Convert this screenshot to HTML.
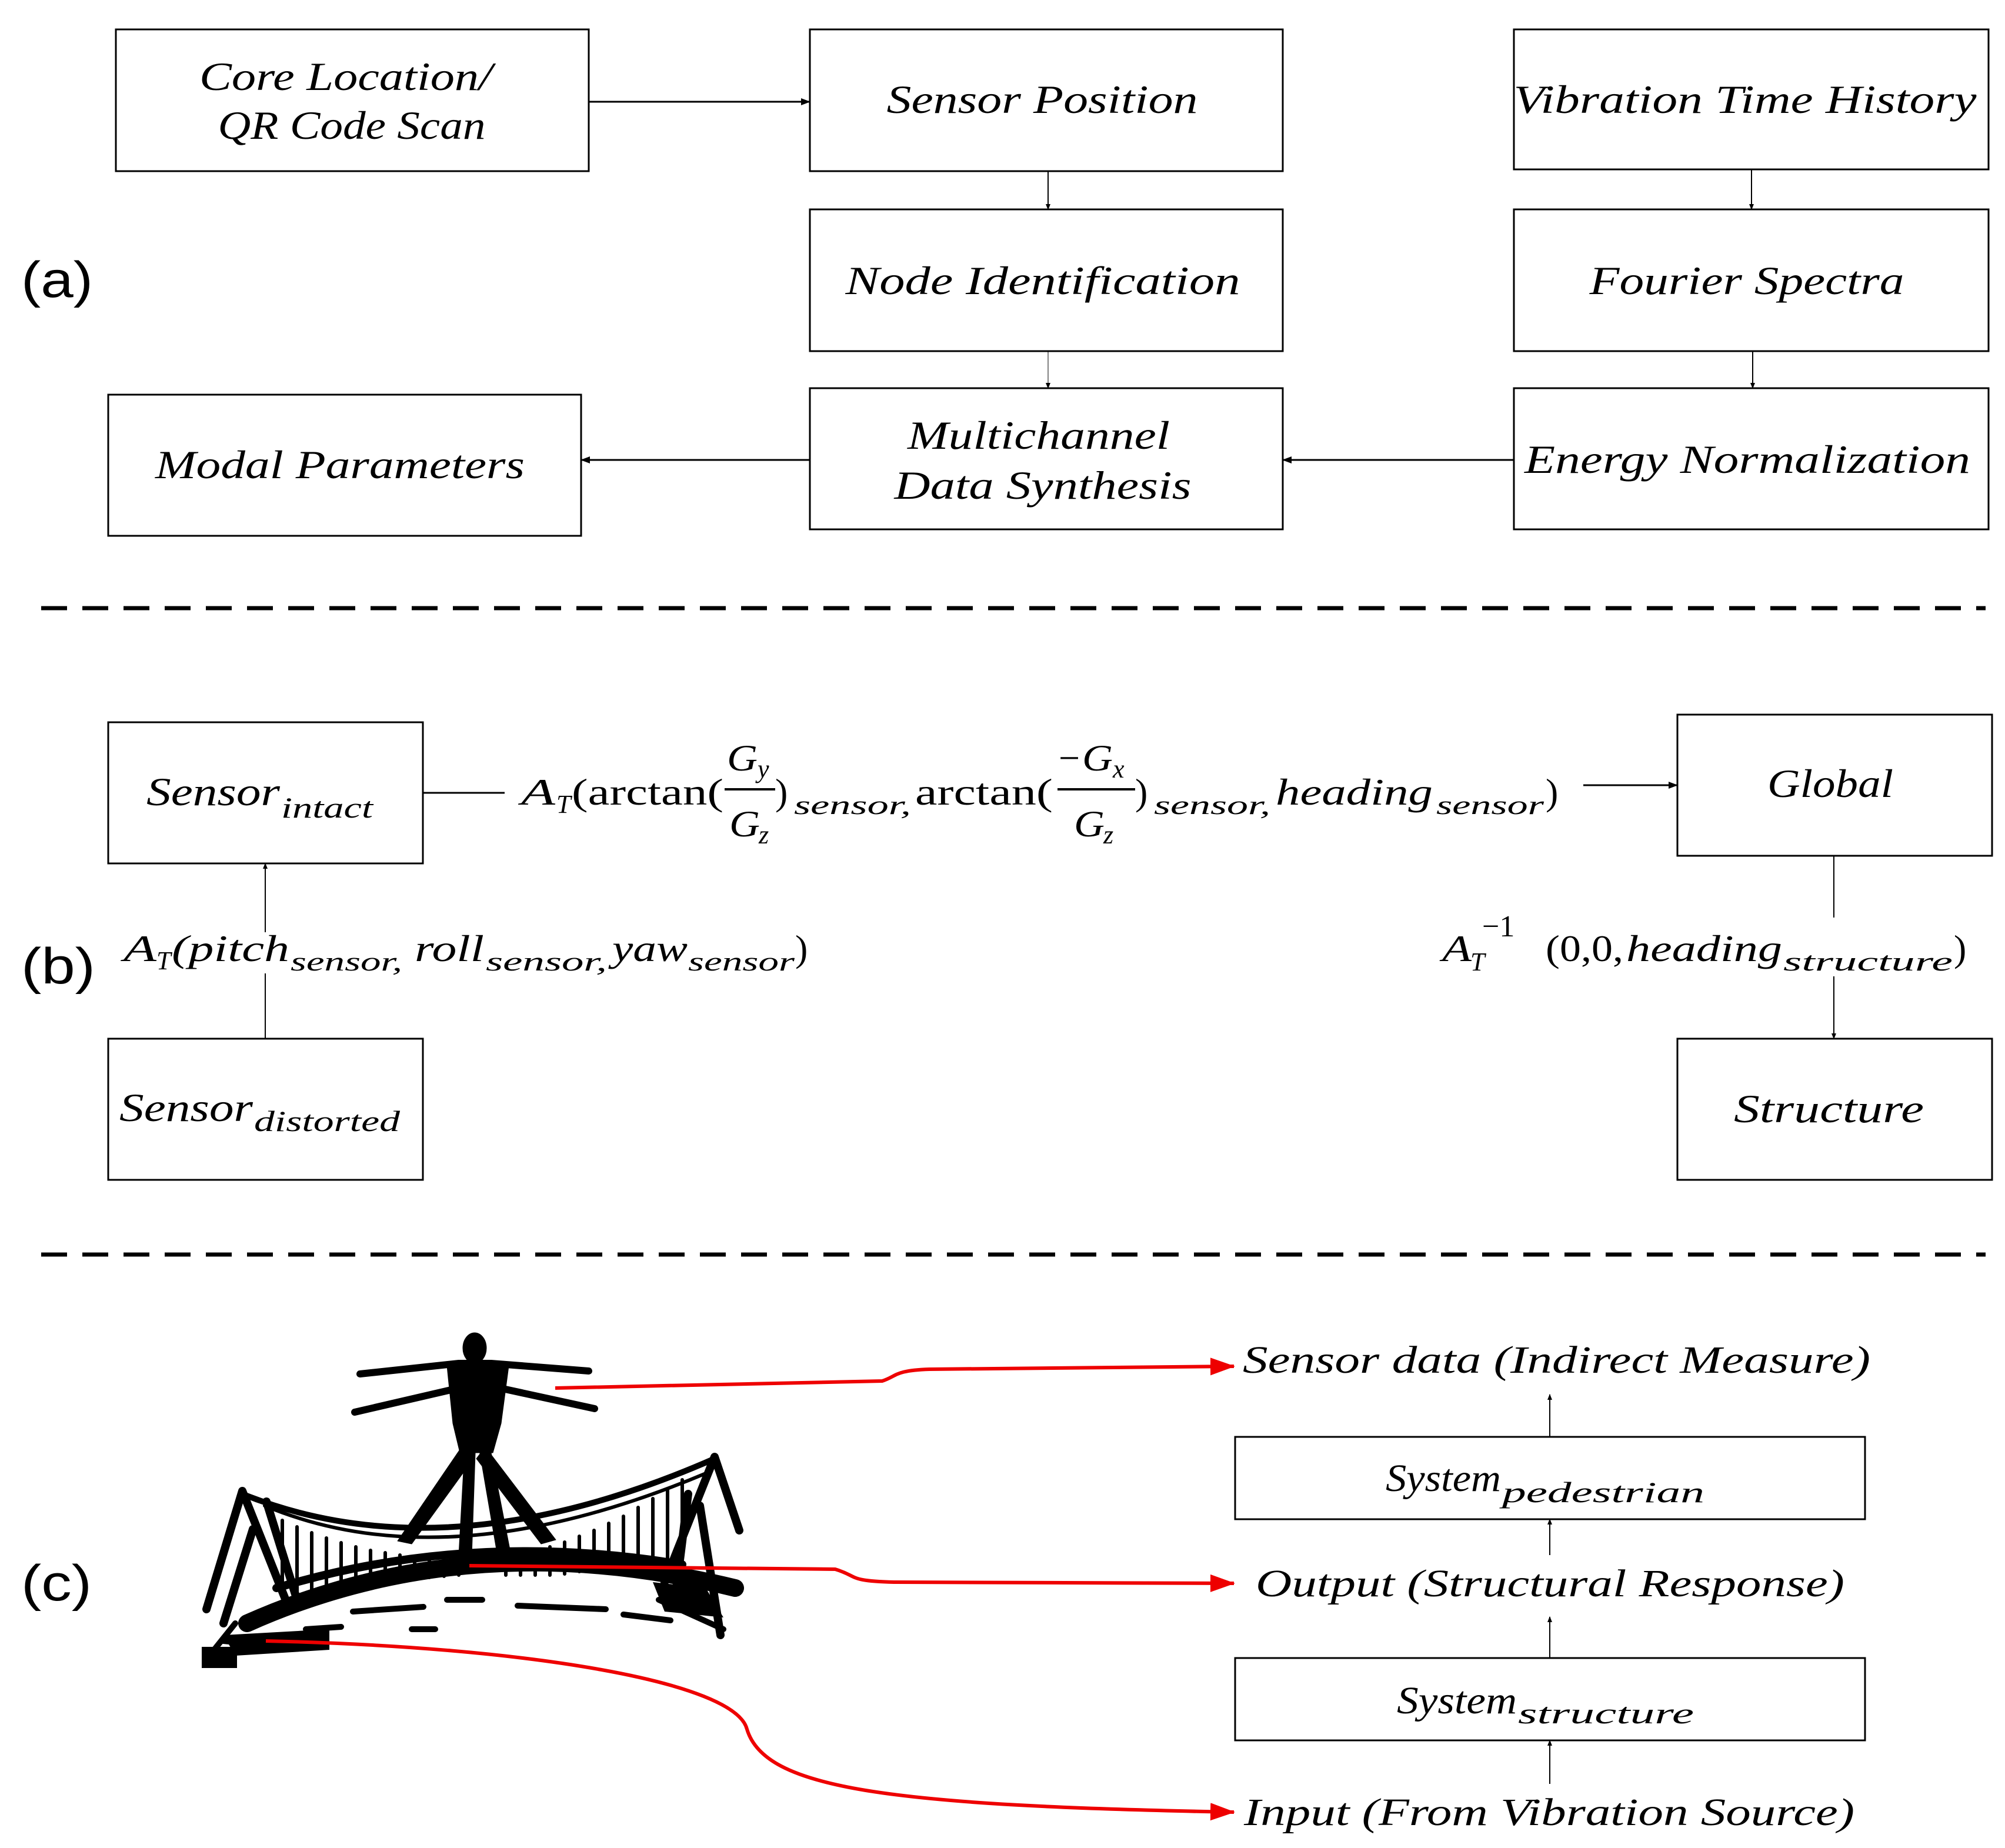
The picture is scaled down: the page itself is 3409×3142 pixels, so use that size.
<!DOCTYPE html>
<html><head><meta charset="utf-8"><style>
html,body{margin:0;padding:0;background:#fff;}
svg{display:block;}
text{font-family:"Liberation Serif",serif;font-style:italic;fill:#000;}
.up{font-style:normal;}
.lbl{font-family:"Liberation Sans",sans-serif;font-style:normal;font-size:86px;}
</style></head><body>
<svg width="3409" height="3142" viewBox="0 0 3409 3142" xmlns="http://www.w3.org/2000/svg">
<defs>
<marker id="ah" markerWidth="10" markerHeight="8" refX="9" refY="4" orient="auto" markerUnits="userSpaceOnUse" viewBox="0 0 10 8"><path d="M0,0 L10,4 L0,8 z" fill="#000"/></marker>
<marker id="ahb" markerWidth="16" markerHeight="12" refX="15" refY="6" orient="auto" markerUnits="userSpaceOnUse" viewBox="0 0 16 12"><path d="M0,0 L16,6 L0,12 z" fill="#000"/></marker>
<marker id="rh" markerWidth="42" markerHeight="30" refX="40" refY="15" orient="auto" markerUnits="userSpaceOnUse" viewBox="0 0 42 30"><path d="M0,0 L42,15 L0,30 z" fill="#e00"/></marker>
</defs>
<g fill="none" stroke="#000" stroke-width="3">
<rect x="197" y="50" width="804" height="241"/>
<rect x="1377" y="50" width="804" height="241"/>
<rect x="2574" y="50" width="807" height="238"/>
<rect x="1377" y="356" width="804" height="241"/>
<rect x="2574" y="356" width="807" height="241"/>
<rect x="184" y="671" width="804" height="240"/>
<rect x="1377" y="660" width="804" height="240"/>
<rect x="2574" y="660" width="807" height="240"/>
<rect x="184" y="1228" width="535" height="240"/>
<rect x="2852" y="1215" width="535" height="240"/>
<rect x="184" y="1766" width="535" height="240"/>
<rect x="2852" y="1766" width="535" height="240"/>
<rect x="2100" y="2443" width="1071" height="140"/>
<rect x="2100" y="2819" width="1071" height="140"/>
</g>
<g stroke="#000" stroke-width="3" fill="none">
<line x1="1001" y1="173" x2="1377" y2="173" marker-end="url(#ahb)"/>
<line x1="1782" y1="291" x2="1782" y2="356" stroke-width="2" marker-end="url(#ah)"/>
<line x1="1782" y1="597" x2="1782" y2="660" stroke-width="1" marker-end="url(#ah)"/>
<line x1="2978" y1="288" x2="2978" y2="356" stroke-width="2" marker-end="url(#ah)"/>
<line x1="2980" y1="597" x2="2980" y2="660" stroke-width="2" marker-end="url(#ah)"/>
<line x1="2574" y1="782" x2="2181" y2="782" marker-end="url(#ahb)"/>
<line x1="1377" y1="782" x2="988" y2="782" marker-end="url(#ahb)"/>
<line x1="70" y1="1034" x2="3376" y2="1034" stroke-width="7" stroke-dasharray="44,26"/>
<line x1="70" y1="2133" x2="3376" y2="2133" stroke-width="7" stroke-dasharray="44,26"/>
<line x1="719" y1="1348" x2="858" y2="1348"/>
<line x1="2692" y1="1335" x2="2852" y2="1335" marker-end="url(#ahb)"/>
<line x1="451" y1="1766" x2="451" y2="1468" stroke-width="2" marker-end="url(#ah)"/>
<line x1="3118" y1="1455" x2="3118" y2="1766" stroke-width="2" marker-end="url(#ah)"/>
<line x1="2635" y1="2443" x2="2635" y2="2371" stroke-width="2" marker-end="url(#ah)"/>
<line x1="2635" y1="2644" x2="2635" y2="2583" stroke-width="2" marker-end="url(#ah)"/>
<line x1="2635" y1="2819" x2="2635" y2="2749" stroke-width="2" marker-end="url(#ah)"/>
<line x1="2635" y1="3033" x2="2635" y2="2959" stroke-width="2" marker-end="url(#ah)"/>
</g>
<g font-size="68" text-anchor="middle">
<text x="588" y="153" textLength="498" lengthAdjust="spacingAndGlyphs">Core Location/</text>
<text x="598" y="236" textLength="455" lengthAdjust="spacingAndGlyphs">QR Code Scan</text>
<text x="1772" y="192" textLength="529" lengthAdjust="spacingAndGlyphs">Sensor Position</text>
<text x="2967" y="192" textLength="787" lengthAdjust="spacingAndGlyphs">Vibration Time History</text>
<text x="1773" y="500" textLength="671" lengthAdjust="spacingAndGlyphs">Node Identification</text>
<text x="2970" y="500" textLength="535" lengthAdjust="spacingAndGlyphs">Fourier Spectra</text>
<text x="578" y="813" textLength="628" lengthAdjust="spacingAndGlyphs">Modal Parameters</text>
<text x="1766" y="763" textLength="446" lengthAdjust="spacingAndGlyphs">Multichannel</text>
<text x="1773" y="848" textLength="505" lengthAdjust="spacingAndGlyphs">Data Synthesis</text>
<text x="2971" y="804" textLength="758" lengthAdjust="spacingAndGlyphs">Energy Normalization</text>
</g>
<text class="lbl" x="36" y="505" textLength="122" lengthAdjust="spacingAndGlyphs">(a)</text>
<text class="lbl" x="36" y="1672" textLength="126" lengthAdjust="spacingAndGlyphs">(b)</text>
<text class="lbl" x="36" y="2721" textLength="120" lengthAdjust="spacingAndGlyphs">(c)</text>
<text x="249" y="1369" font-size="68" textLength="227" lengthAdjust="spacingAndGlyphs">Sensor</text>
<text x="478" y="1390" font-size="50" textLength="156" lengthAdjust="spacingAndGlyphs">intact</text>
<text x="203" y="1906" font-size="68" textLength="227" lengthAdjust="spacingAndGlyphs">Sensor</text>
<text x="432" y="1923" font-size="50" textLength="248" lengthAdjust="spacingAndGlyphs">distorted</text>
<text x="3005" y="1355" font-size="68" textLength="214" lengthAdjust="spacingAndGlyphs">Global</text>
<text x="2948" y="1908" font-size="68" textLength="323" lengthAdjust="spacingAndGlyphs">Structure</text>
<g font-size="64">
<text x="886" y="1368" textLength="58" lengthAdjust="spacingAndGlyphs">A</text>
<text x="946" y="1382" font-size="44">T</text>
<text class="up" x="972" y="1368" textLength="258" lengthAdjust="spacingAndGlyphs">(arctan(</text>
<text x="1236" y="1310" textLength="52" lengthAdjust="spacingAndGlyphs">G</text>
<text x="1288" y="1322" font-size="44">y</text>
<line x1="1232" y1="1342" x2="1318" y2="1342" stroke="#000" stroke-width="4"/>
<text x="1240" y="1422" textLength="52" lengthAdjust="spacingAndGlyphs">G</text>
<text x="1290" y="1434" font-size="44">z</text>
<text class="up" x="1318" y="1368">)</text>
<text x="1350" y="1384" font-size="46" textLength="199" lengthAdjust="spacingAndGlyphs">sensor,</text>
<text class="up" x="1556" y="1368" textLength="234" lengthAdjust="spacingAndGlyphs">arctan(</text>
<text class="up" x="1800" y="1310">−</text>
<text x="1840" y="1310" textLength="52" lengthAdjust="spacingAndGlyphs">G</text>
<text x="1892" y="1322" font-size="44">x</text>
<line x1="1798" y1="1342" x2="1930" y2="1342" stroke="#000" stroke-width="4"/>
<text x="1826" y="1422" textLength="52" lengthAdjust="spacingAndGlyphs">G</text>
<text x="1876" y="1434" font-size="44">z</text>
<text class="up" x="1930" y="1368">)</text>
<text x="1962" y="1384" font-size="46" textLength="198" lengthAdjust="spacingAndGlyphs">sensor,</text>
<text x="2169" y="1368" textLength="267" lengthAdjust="spacingAndGlyphs">heading</text>
<text x="2442" y="1384" font-size="46" textLength="183" lengthAdjust="spacingAndGlyphs">sensor</text>
<text class="up" x="2628" y="1368">)</text>
</g>
<rect x="440" y="1585" width="22" height="70" fill="#fff"/>
<g font-size="64">
<text x="210" y="1634" textLength="56" lengthAdjust="spacingAndGlyphs">A</text>
<text x="266" y="1648" font-size="44">T</text>
<text x="292" y="1634" textLength="200" lengthAdjust="spacingAndGlyphs">(pitch</text>
<text x="494" y="1650" font-size="46" textLength="190" lengthAdjust="spacingAndGlyphs">sensor,</text>
<text x="705" y="1634" textLength="118" lengthAdjust="spacingAndGlyphs">roll</text>
<text x="826" y="1650" font-size="46" textLength="206" lengthAdjust="spacingAndGlyphs">sensor,</text>
<text x="1041" y="1634" textLength="128" lengthAdjust="spacingAndGlyphs">yaw</text>
<text x="1170" y="1650" font-size="46" textLength="181" lengthAdjust="spacingAndGlyphs">sensor</text>
<text class="up" x="1352" y="1634">)</text>
</g>
<rect x="3105" y="1560" width="26" height="100" fill="#fff"/>
<g font-size="64">
<text x="2452" y="1634" textLength="50" lengthAdjust="spacingAndGlyphs">A</text>
<text x="2500" y="1650" font-size="44">T</text>
<text class="up" x="2520" y="1592" font-size="52">−1</text>
<text class="up" x="2628" y="1634" textLength="132" lengthAdjust="spacingAndGlyphs">(0,0,</text>
<text x="2765" y="1634" textLength="265" lengthAdjust="spacingAndGlyphs">heading</text>
<text x="3032" y="1650" font-size="46" textLength="288" lengthAdjust="spacingAndGlyphs">structure</text>
<text class="up" x="3322" y="1634">)</text>
</g>
<g font-size="66">
<text x="2113" y="2334" textLength="1067" lengthAdjust="spacingAndGlyphs">Sensor data (Indirect Measure)</text>
<text x="2135" y="2714" textLength="1001" lengthAdjust="spacingAndGlyphs">Output (Structural Response)</text>
<text x="2115" y="3103" textLength="1038" lengthAdjust="spacingAndGlyphs">Input (From Vibration Source)</text>
<text x="2356" y="2535" textLength="196" lengthAdjust="spacingAndGlyphs">System</text>
<text x="2554" y="2554" font-size="50" textLength="344" lengthAdjust="spacingAndGlyphs">pedestrian</text>
<text x="2375" y="2913" textLength="204" lengthAdjust="spacingAndGlyphs">System</text>
<text x="2581" y="2930" font-size="50" textLength="299" lengthAdjust="spacingAndGlyphs">structure</text>
</g>
<!-- bridge illustration -->
<g stroke="#000" fill="none" stroke-linecap="round">
<!-- deck -->
<path d="M420,2760 Q800,2590 1250,2700" stroke-width="30"/>
<path d="M470,2700 Q800,2600 1160,2660" stroke-width="14"/>
<!-- cables -->
<path d="M412,2540 Q760,2680 1215,2480" stroke-width="10"/>
<path d="M450,2560 Q760,2690 1200,2505" stroke-width="6"/>
<!-- towers -->
<path d="M412,2535 L492,2736 M453,2553 L505,2720 M412,2535 L351,2736 M430,2600 L380,2760" stroke-width="14"/>
<path d="M1215,2477 L1130,2690 M1215,2477 L1257,2602 M1190,2560 L1225,2780 M1170,2540 L1150,2700" stroke-width="14"/>
<!-- hangers -->
<g stroke-width="6">
<path d="M480,2585 v130 M505,2596 v112 M530,2606 v98 M555,2615 v86 M580,2623 v74 M605,2630 v64 M630,2636 v56 M655,2640 v48 M680,2644 v42 M705,2646 v38 M730,2648 v34 M755,2648 v32 M780,2648 v30 M860,2644 v34 M885,2640 v38 M910,2636 v42 M935,2630 v48 M960,2622 v54 M985,2612 v60 M1010,2602 v66 M1035,2590 v74 M1060,2578 v84 M1085,2563 v96 M1110,2548 v110 M1135,2532 v120 M1160,2516 v130"/>
</g>
<!-- ground clutter -->
<path d="M380,2790 l100,10 M400,2760 l-40,50 M600,2740 l120,-8 M760,2720 l60,0 M880,2730 l150,6 M1060,2745 l80,10 M1120,2720 l110,50 M520,2770 l60,-4 M700,2770 l40,0" stroke-width="10"/>
</g>
<path d="M380,2780 L560,2770 L560,2805 L400,2815 z" fill="#000"/>
<path d="M1110,2690 L1200,2700 L1230,2750 L1130,2740 z" fill="#000"/>
<rect x="343" y="2800" width="60" height="36" fill="#000"/>
<!-- person -->
<g fill="#000" stroke="#000" stroke-linecap="round" stroke-linejoin="round">
<ellipse cx="807" cy="2292" rx="20" ry="26"/>
<path d="M612,2336 L780,2318 L835,2318 L1001,2331" stroke-width="12" fill="none"/>
<path d="M603,2401 L780,2360 L850,2360 L1011,2395" stroke-width="12" fill="none"/>
<path d="M760,2322 L865,2322 L852,2420 L838,2470 L782,2470 L770,2420 z"/>
<path d="M785,2460 L676,2620 L700,2625 L805,2480 z"/>
<path d="M825,2460 L945,2618 L920,2625 L810,2480 z"/>
<path d="M790,2465 L780,2645 L802,2645 L808,2470 z"/>
<path d="M815,2465 L845,2640 L868,2640 L835,2470 z"/>
</g>
<!-- red connectors -->
<g stroke="#e00" stroke-width="6" fill="none">
<path d="M944,2360 L1500,2348 C1525,2340 1520,2330 1580,2328 L2098,2323" marker-end="url(#rh)"/>
<path d="M798,2662 L1420,2668 C1460,2680 1440,2688 1520,2690 L2098,2692" marker-end="url(#rh)"/>
<path d="M452,2790 C900,2800 1250,2860 1270,2940 C1300,3040 1500,3070 2098,3081" marker-end="url(#rh)"/>
</g>
</svg>
</body></html>
